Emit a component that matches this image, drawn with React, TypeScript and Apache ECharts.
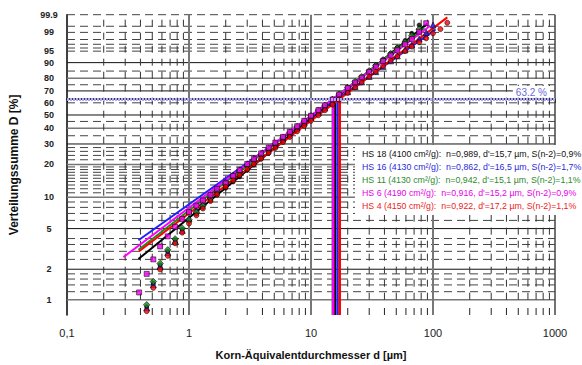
import { useEffect, useRef } from 'react';
import * as echarts from 'echarts';

// particle sizes (µm) of the measured points
const sizes = [0.39, 0.45, 0.51, 0.58, 0.67, 0.77, 0.88, 1.0, 1.15, 1.3, 1.5, 1.7, 2.0, 2.3, 2.6, 3.0, 3.4, 3.9, 4.5, 5.1, 5.9, 6.7, 7.7, 8.8, 10, 11.5, 13, 15, 17, 20, 23, 26, 30, 34, 39, 45, 51, 59, 67, 77, 88, 100, 115, 131];

// cumulative distribution D (%) per sample
const hs18 = [null, 0.85, 1.45, 2.2, 3.0, 3.9, 4.9, 5.9, 6.9, 8.0, 9.3, 10.5, 12.2, 13.9, 15.5, 17.7, 19.8, 22.3, 25.2, 28.0, 31.6, 35.0, 39.0, 43.1, 47.3, 52.0, 56.4, 61.5, 66.1, 71.9, 76.7, 80.7, 85.0, 88.4, 91.6, 94.3, 96.2, 97.8, 98.9, 99.57, null, null, null, null];
const hs16 = [null, 0.83, 1.41, 2.15, 2.92, 3.8, 4.8, 6.2, 7.5, 8.8, 10.3, 11.8, 13.8, 15.9, 17.9, 20.3, 22.6, 25.1, 27.8, 30.5, 33.8, 36.9, 40.5, 44.1, 47.8, 51.9, 55.7, 60.2, 64.2, 69.3, 73.6, 77.2, 81.3, 84.6, 87.9, 90.9, 93.2, 95.4, 96.9, 98.1, 98.97, 99.57, null, null];
const hs11 = [null, 0.89, 1.51, 2.28, 3.1, 3.97, 5.05, 6.1, 7.2, 8.3, 9.8, 11.3, 13.6, 15.6, 17.4, 19.6, 21.8, 24.4, 27.4, 30.2, 33.8, 37.2, 41.2, 45.2, 49.3, 53.9, 58.0, 63.0, 67.3, 72.8, 77.4, 81.1, 85.2, 88.4, 91.4, 94.0, 95.9, 97.5, 98.6, 99.3, null, null, null, null];
const hs6 = [1.18, 1.8, 2.5, 3.35, 4.2, 5.2, 6.2, 7.2, 8.3, 9.3, 10.5, 12.0, 13.5, 15.8, 17.8, 20.2, 22.4, 25.0, 28.0, 30.8, 34.3, 37.6, 41.5, 45.5, 49.4, 53.9, 58.0, 62.8, 67.0, 72.4, 76.8, 80.5, 84.5, 87.7, 90.8, 93.4, 95.3, 97.0, 98.1, 99.07, 99.66, null, null, null];
const hs4 = [null, 0.77, 1.31, 1.99, 2.71, 3.6, 4.57, 5.6, 6.7, 7.8, 9.2, 10.6, 12.5, 14.3, 16.0, 18.1, 20.1, 22.5, 25.2, 27.8, 31.1, 34.2, 37.9, 41.7, 45.5, 49.8, 53.8, 58.6, 62.8, 68.3, 72.9, 76.9, 81.2, 84.6, 88.1, 91.0, 93.0, 95.0, 96.4, 97.45, 98.2, 98.9, 99.3, 99.68];

const sampleNames = ['HS 18', 'HS 16', 'HS 11', 'HS 6', 'HS 4'];
const legendTexts = [
  "HS 18 (4100 cm²/g):  n=0,989, d'=15,7 µm, S(n-2)=0,9%",
  "HS 16 (4130 cm²/g):  n=0,862, d'=16,5 µm, S(n-2)=1,7%",
  "HS 11 (4130 cm²/g):  n=0,942, d'=15,1 µm, S(n-2)=1,1%",
  "HS 6 (4190 cm²/g):  n=0,916, d'=15,2 µm, S(n-2)=0,9%",
  "HS 4 (4150 cm²/g):  n=0,922, d'=17,2 µm, S(n-2)=1,1%",
];
// characteristic size d' (µm) at 63.2 %
const dPrime = [15.7, 16.5, 15.1, 15.2, 17.2];
// RRSB fit line end points [d µm, D %]
const fitStart = [[0.385, 2.52], [0.385, 3.85], [0.385, 3.11], [0.29, 2.63], [0.39, 3.0]];
const fitEnd = [[90, 99.64], [105, 99.28], [85, 99.39], [95, 99.53], [131, 99.85]];

// grid levels
const yLabelValues = [1, 2, 5, 10, 20, 30, 40, 50, 60, 70, 80, 90, 95, 99, 99.9];
const hMinor = [99.9, 99.5, 99, 98, 97, 96, 95, 85, 75, 60, 45, 35, 28, 26, 24, 22, 19, 18, 17, 16, 15, 14, 13, 12, 11, 9, 8, 7, 6, 4, 3.5, 3, 2.5, 1.8, 1.6, 1.4, 1.2];
const hMajorBlack = [90, 70, 50, 30, 5, 2];
const hMajorGray = [80, 40, 20, 10, 1];
const vMinor = [0.2, 0.3, 0.4, 0.5, 0.6, 0.7, 0.8, 0.9, 2, 3, 4, 5, 6, 7, 8, 9, 20, 30, 40, 50, 60, 70, 80, 90, 200, 300, 400, 500, 600, 700, 800, 900];
const vDecade = [1, 10, 100];

const markerColors = ['#000000', '#2323ff', '#1c8c1c', '#ff00ff', '#ff0000'];
const lineColors = ['#000000', '#2020ff', '#1a901a', '#ff00ff', '#ff0000'];
const textColors = ['#111111', '#2b2bd9', '#2e8b2e', '#e800e8', '#ee2222'];
const symbols = ['circle', 'triangle', 'diamond', 'rect', 'circle'];

const T = (p: number) => Math.log(-Math.log(1 - p / 100));
const yMax = T(99.9);
const yMin = T(0.705);
const FONT = 'Arial, "Liberation Sans", sans-serif';

export default function App() {
  const ref = useRef<HTMLDivElement>(null);
  useEffect(() => {
    if (!ref.current) return;
    const chart = echarts.init(ref.current, undefined, { renderer: 'svg' });
    const values = [hs18, hs16, hs11, hs6, hs4];

    const segs: number[][] = [];
    hMinor.forEach((p) => segs.push([0.1, T(p), 1000, T(p), 0]));
    hMajorBlack.forEach((p) => segs.push([0.1, T(p), 1000, T(p), 1]));
    hMajorGray.forEach((p) => segs.push([0.1, T(p), 1000, T(p), 2]));
    vMinor.forEach((x) => segs.push([x, T(1), x, yMax, 3]));
    vMinor.forEach((x) => segs.push([x, yMin, x, yMin, 5]));
    vDecade.forEach((x) => segs.push([x, yMin, x, yMax, 4]));
    segs.push([1000, yMin, 1000, yMax, 6]);

    const segStyles: any[] = [
      { stroke: '#444', lineWidth: 1, lineDash: [8, 5] },
      { stroke: '#111', lineWidth: 1 },
      { stroke: '#777', lineWidth: 1.6 },
      { stroke: '#333', lineWidth: 1, lineDash: [7, 6] },
      { stroke: '#777', lineWidth: 2 },
      { stroke: '#222', lineWidth: 1 },
      { stroke: '#444', lineWidth: 1.5 },
    ];

    const series: any[] = [
      {
        type: 'custom',
        silent: true,
        z: 1,
        data: segs,
        encode: { x: [0, 2], y: [1, 3] },
        renderItem: (_p: any, api: any) => {
          const kind = api.value(4);
          const a = api.coord([api.value(0), api.value(1)]);
          let b = api.coord([api.value(2), api.value(3)]);
          if (kind === 5) b = [a[0], a[1] - 7];
          return {
            type: 'line',
            shape: { x1: a[0], y1: a[1], x2: b[0], y2: b[1] },
            style: { fill: null, ...segStyles[kind] },
          };
        },
      },
    ];

    sampleNames.forEach((name, i) => {
      series.push({
        type: 'line',
        name,
        color: lineColors[i],
        z: 2,
        silent: true,
        symbol: 'none',
        data: [[dPrime[i], yMin], [dPrime[i], T(63.2)]],
        lineStyle: { color: lineColors[i], width: 2.5 },
      });
    });

    series.push({
      type: 'line',
      z: 3,
      data: [],
      silent: true,
      markLine: {
        silent: true,
        symbol: 'none',
        data: [{ yAxis: T(63.2) }],
        lineStyle: { color: '#a8a8ff', width: 3, type: [2, 1] },
        label: {
          show: true,
          position: 'insideEndTop',
          formatter: '63.2 %',
          color: '#6b6bd9',
          fontSize: 10,
          fontFamily: FONT,
          backgroundColor: '#fff',
          padding: [1, 3, 0, 3],
          distance: [5, 2],
        },
      },
    });

    sampleNames.forEach((name, i) => {
      series.push({
        type: 'line',
        name,
        color: lineColors[i],
        z: 3,
        silent: true,
        symbol: 'none',
        data: [[fitStart[i][0], T(fitStart[i][1])], [fitEnd[i][0], T(fitEnd[i][1])]],
        lineStyle: { color: lineColors[i], width: 2 },
      });
    });

    sampleNames.forEach((name, i) => {
      const pts: number[][] = [];
      values[i].forEach((v, k) => {
        if (v != null) pts.push([sizes[k], T(v as number)]);
      });
      series.push({
        type: 'scatter',
        name,
        color: markerColors[i],
        z: 4,
        symbol: symbols[i],
        symbolSize: i === 1 ? 6 : i === 2 ? 6.5 : 5,
        data: pts,
        itemStyle: { color: markerColors[i], borderColor: '#000', borderWidth: i === 0 ? 0 : 0.7 },
      });
    });

    chart.setOption({
      animation: false,
      grid: { left: 65, right: 27, top: 14.7, bottom: 50 },
      legend: {
        orient: 'vertical',
        left: 355,
        top: 145,
        itemWidth: 0,
        itemHeight: 9,
        itemGap: 2,
        selectedMode: false,
        backgroundColor: '#fff',
        padding: [3, 20, 4, 2],
        data: sampleNames.map((n, i) => ({ name: n, icon: 'none', textStyle: { color: textColors[i] } })),
        formatter: (n: string) => legendTexts[sampleNames.indexOf(n)],
        textStyle: { fontSize: 8.8, fontFamily: FONT, lineHeight: 11 },
      },
      xAxis: {
        type: 'log',
        logBase: 10,
        min: 0.1,
        max: 1000,
        name: 'Korn-Äquivalentdurchmesser d [µm]',
        nameLocation: 'middle',
        nameGap: 34,
        nameTextStyle: { fontSize: 11, fontWeight: 'bold', fontFamily: FONT, color: '#111' },
        axisLine: { lineStyle: { color: '#000', width: 1.5 } },
        axisTick: { show: true, length: 4, lineStyle: { color: '#000' } },
        splitLine: { show: false },
        minorTick: { show: false },
        axisLabel: {
          fontSize: 11,
          fontFamily: FONT,
          color: '#222',
          margin: 12,
          formatter: (v: number) => String(Number(v.toPrecision(3))).replace('.', ','),
        },
      },
      yAxis: {
        type: 'value',
        min: yMin,
        max: yMax,
        name: 'Verteilungssumme D [%]',
        nameLocation: 'middle',
        nameGap: 47,
        nameTextStyle: { fontSize: 12, fontWeight: 'bold', fontFamily: FONT, color: '#111' },
        axisLine: { show: true, lineStyle: { color: '#000', width: 1.5 } },
        axisTick: { show: false },
        splitLine: { show: false },
        axisLabel: {
          customValues: yLabelValues.map(T),
          fontSize: 9,
          fontWeight: 'bold',
          fontFamily: FONT,
          color: '#222',
          align: 'center',
          margin: 18,
          formatter: (v: number) => {
            let best = yLabelValues[0];
            let bd = Infinity;
            yLabelValues.forEach((p) => {
              const d = Math.abs(T(p) - v);
              if (d < bd) { bd = d; best = p; }
            });
            return String(best);
          },
        },
      },
      series,
    });
    return () => chart.dispose();
  }, []);
  return <div ref={ref} style={{ position: 'absolute', left: 0, top: 0, width: 582, height: 365 }} />;
}
